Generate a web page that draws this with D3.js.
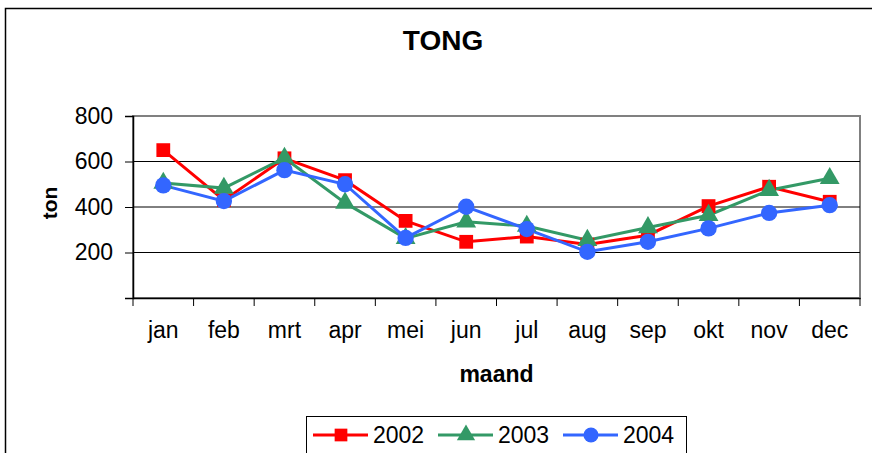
<!DOCTYPE html>
<html>
<head>
<meta charset="utf-8">
<script src="https://cdn.jsdelivr.net/npm/d3@7"></script>
<style>
  body { margin: 0; background: #fff; }
  svg { display: block; font-family: Arial, "Liberation Sans", sans-serif; }
</style>
</head>
<body>
<svg width="872" height="453"></svg>
<script>
"use strict";

var months = ["jan","feb","mrt","apr","mei","jun","jul","aug","sep","okt","nov","dec"];
var years = ["2002","2003","2004"];
var vals2002 = [650,430,614,518,339,247,270,235,276,404,489,423];
var vals2003 = [505,483,615,418,262,335,316,254,310,364,474,526];
var vals2004 = [495,426,562,500,264,401,303,203,247,306,374,408];
var yTicks = [0,200,400,600,800];

function drawChart(){

  var series = [
    {name: years[0], values: vals2002, color: "#ff0000", shape: d3.symbolSquare, size: 190},
    {name: years[1], values: vals2003, color: "#339966", shape: d3.symbolTriangle, size: 170},
    {name: years[2], values: vals2004, color: "#3366ff", shape: d3.symbolCircle, size: 210}
  ];

  var svg = d3.select("svg");

  var pLeft = 133, pRight = 860, pTop = 116, pBottom = 298;

  var xScale = d3.scaleBand().domain(months).range([pLeft, pRight]);
  var yScale = d3.scaleLinear().domain([0, 800]).range([pBottom, pTop]);

  // outer frame (right and bottom sides fall outside the picture)
  svg.append("rect")
    .attr("x", 5.5).attr("y", 8.5)
    .attr("width", 920).attr("height", 480)
    .attr("fill", "none").attr("stroke", "#000").attr("stroke-width", 1.5);

  // title
  svg.append("text")
    .attr("x", 443).attr("y", 50)
    .attr("text-anchor", "middle")
    .style("font-size", "28px").style("font-weight", "bold")
    .text("TONG");

  // plot frame
  svg.append("rect")
    .attr("x", pLeft).attr("y", pTop)
    .attr("width", pRight - pLeft).attr("height", pBottom - pTop)
    .attr("fill", "none").attr("stroke", "#808080").attr("stroke-width", 2);

  // grid
  svg.append("g")
    .selectAll("line")
    .data(yTicks.filter(function(d){ return d > 0 && d < 800; }))
    .enter().append("line")
    .attr("x1", pLeft).attr("x2", pRight)
    .attr("y1", function(d){ return yScale(d); })
    .attr("y2", function(d){ return yScale(d); })
    .attr("stroke", "#000").attr("stroke-width", 1);

  // y axis
  var yAxisG = svg.append("g")
    .attr("transform", "translate(" + pLeft + ",0)")
    .call(d3.axisLeft(yScale).tickValues(yTicks).tickSize(8).tickPadding(12)
      .tickFormat(function(d){ return d === 0 ? "" : d; }));
  yAxisG.attr("font-family", null);
  yAxisG.select(".domain").attr("stroke", "#000").attr("stroke-width", 1.5);
  yAxisG.selectAll("text").style("font-size", "23px").attr("fill", "#000");

  // x axis
  var xAxisG = svg.append("g")
    .attr("transform", "translate(0," + pBottom + ")")
    .call(d3.axisBottom(xScale).tickSize(0).tickPadding(24));
  xAxisG.attr("font-family", null);
  xAxisG.select(".domain").attr("stroke", "#000").attr("stroke-width", 1.5);
  xAxisG.selectAll("text").style("font-size", "23px").attr("fill", "#000");
  xAxisG.selectAll(".edge")
    .data(d3.range(months.length + 1))
    .enter().append("line")
    .attr("x1", function(i){ return pLeft + i * xScale.bandwidth(); })
    .attr("x2", function(i){ return pLeft + i * xScale.bandwidth(); })
    .attr("y1", 0).attr("y2", 8)
    .attr("stroke", "#000").attr("stroke-width", 1);

  // axis titles
  svg.append("text")
    .attr("x", (pLeft + pRight) / 2).attr("y", 382)
    .attr("text-anchor", "middle")
    .style("font-size", "23px").style("font-weight", "bold")
    .text("maand");

  svg.append("text")
    .attr("transform", "translate(57,203) rotate(-90)")
    .attr("text-anchor", "middle")
    .style("font-size", "21px").style("font-weight", "bold")
    .text("ton");

  // lines and markers
  var line = d3.line()
    .x(function(d, i){ return xScale(months[i]) + xScale.bandwidth() / 2; })
    .y(function(d){ return yScale(d); });

  series.forEach(function(s){
    svg.append("path")
      .attr("d", line(s.values))
      .attr("fill", "none")
      .attr("stroke", s.color)
      .attr("stroke-width", 3);
  });

  series.forEach(function(s){
    svg.append("g")
      .selectAll("path")
      .data(s.values)
      .enter().append("path")
      .attr("d", d3.symbol().type(s.shape).size(s.size))
      .attr("transform", function(d, i){
        return "translate(" + (xScale(months[i]) + xScale.bandwidth() / 2) + "," + yScale(d) + ")";
      })
      .attr("fill", s.color);
  });

  // legend
  var legend = svg.append("g");
  legend.append("rect")
    .attr("x", 306.5).attr("y", 416.5)
    .attr("width", 380).attr("height", 50)
    .attr("fill", "#fff").attr("stroke", "#000").attr("stroke-width", 1);

  series.forEach(function(s, i){
    var x0 = 313 + i * 125;
    legend.append("line")
      .attr("x1", x0).attr("x2", x0 + 55)
      .attr("y1", 435).attr("y2", 435)
      .attr("stroke", s.color).attr("stroke-width", 3);
    legend.append("path")
      .attr("d", d3.symbol().type(s.shape).size(s.size * 0.85))
      .attr("transform", "translate(" + (x0 + 28) + ",435)")
      .attr("fill", s.color);
    legend.append("text")
      .attr("x", x0 + 60).attr("y", 443)
      .style("font-size", "23px")
      .text(s.name);
  });
}

drawChart();
</script>
</body>
</html>
